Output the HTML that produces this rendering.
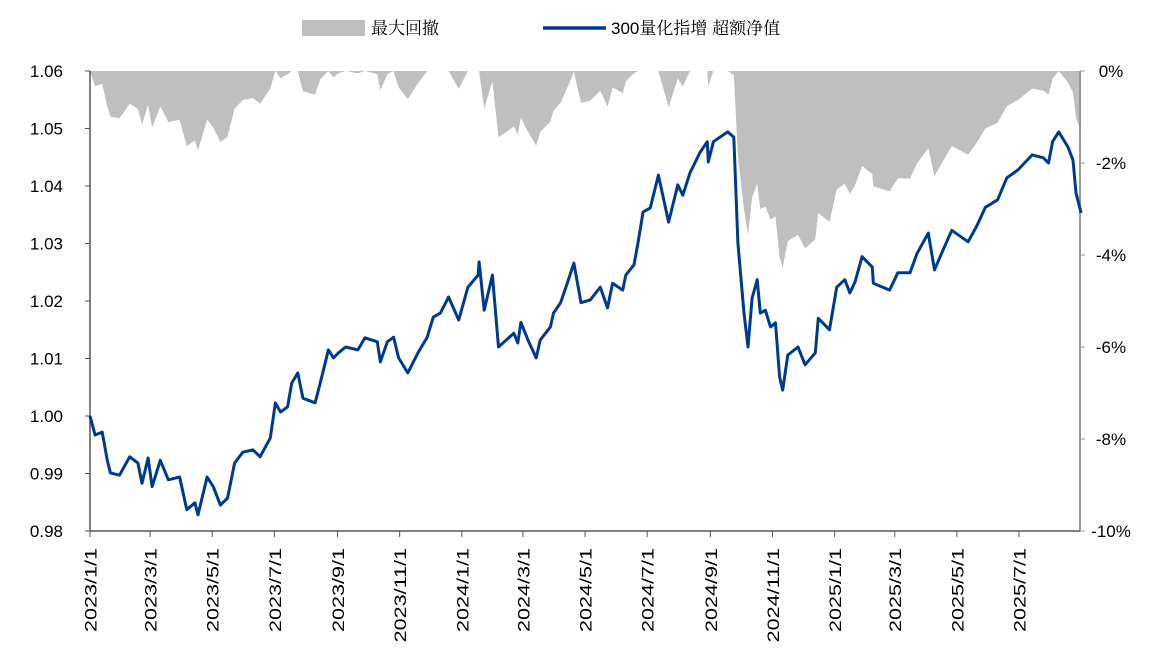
<!DOCTYPE html>
<html><head><meta charset="utf-8"><style>
body{margin:0;background:#fff;}
svg text{font-family:"Liberation Sans",Arial,sans-serif;fill:#000;}
</style></head><body>
<svg width="1161" height="654" viewBox="0 0 1161 654">
<g id="dd"></g>
<g id="axes"></g>
<g id="ln"></g>
<g>
<rect x="302" y="20" width="63" height="16" fill="#bfbfbf"/>
<text x="371" y="34" font-size="17" style="font-family:'Noto Serif CJK SC',serif">最大回撤</text>
<line x1="543" y1="28" x2="606" y2="28" stroke="#003a8c" stroke-width="3.5"/>
<text x="611" y="34" font-size="17" style="font-family:'Liberation Sans','Noto Serif CJK SC',serif">300量化指增 超额净值</text>
</g>
</svg>
<script>
const days=[0,5,12,17,20,29,39,47,51,57,61,69,77,88,95,103,106,115,121,128,135,142,150,160,167,177,182,187,194,198,204,209,221,226,234,239,244,251,263,270,282,285,292,298,303,312,322,331,337,344,352,362,371,381,382,387,395,401,416,420,423,430,438,442,452,455,462,469,475,
482,491,501,508,513,523,526,534,538,543,550,558,568,577,582,589,599,606,607,612,626,632,636,642,646,650,655,658,663,668,673,677,680,685,695,702,712,715,726,733,741,746,751,758,768,769,785,793,805,812,823,829,836,846,862,871,879,891,900,911,925,936,941,945,951,960,965,968,973];
const navValues=[1.0000,0.9967,0.9972,0.9923,0.9901,0.9897,0.9929,0.9918,0.9883,0.9927,0.9877,0.9923,0.9889,0.9894,0.9837,0.9849,0.9828,0.9894,0.9877,0.9845,0.9857,0.9918,0.9937,0.9941,0.9929,0.9962,1.0023,1.0007,1.0016,1.0057,1.0075,1.0031,1.0023,1.0057,1.0115,1.0101,1.0110,1.0120,1.0115,1.0136,1.0129,1.0094,1.0129,1.0137,1.0101,1.0075,1.0110,1.0137,1.0172,1.0179,1.0207,1.0167,1.0224,1.0245,1.0268,1.0184,1.0245,1.0120,1.0144,1.0127,1.0163,1.0132,1.0101,1.0132,1.0155,1.0179,1.0197,1.0233,1.0266,
1.0197,1.0202,1.0224,1.0188,1.0231,1.0219,1.0245,1.0263,1.0301,1.0355,1.0362,1.0419,1.0337,1.0402,1.0384,1.0423,1.0459,1.0477,1.0442,1.0477,1.0494,1.0485,1.0301,1.0179,1.0120,1.0205,1.0237,1.0179,1.0184,1.0155,1.0162,1.0068,1.0045,1.0106,1.0120,1.0089,1.0110,1.0170,1.0150,1.0224,1.0237,1.0214,1.0233,1.0277,1.0259,1.0231,1.0219,1.0249,1.0249,1.0283,1.0318,1.0254,1.0283,1.0323,1.0303,1.0332,1.0363,1.0376,1.0414,1.0428,1.0454,1.0449,1.0440,1.0477,1.0494,1.0468,1.0445,1.0388,1.0353];
const leftTicks=["1.06","1.05","1.04","1.03","1.02","1.01","1.00","0.99","0.98"];
const rightTicks=["0%","-2%","-4%","-6%","-8%","-10%"];
const xTickLabels=["2023/1/1","2023/3/1","2023/5/1","2023/7/1","2023/9/1","2023/11/1","2024/1/1","2024/3/1","2024/5/1","2024/7/1","2024/9/1","2024/11/1","2025/1/1","2025/3/1","2025/5/1","2025/7/1"];

const NS="http://www.w3.org/2000/svg";
const L=90,R=1080,T=71,B=531;
const origin=Date.UTC(2023,0,1);
const pxPerDay=(1019-90)/912;
const xDay=d=>L+d*pxPerDay;
const yNav=v=>T+(1.06-v)/(1.06-0.98)*(B-T);
const yDD=p=>T+(-p)/10*(B-T);
function mk(tag,attrs,parent){const e=document.createElementNS(NS,tag);for(const k in attrs)e.setAttribute(k,attrs[k]);parent.appendChild(e);return e;}

let mx=-Infinity;const dd=navValues.map(v=>{mx=Math.max(mx,v);return (v/mx-1)*100;});
let dpath="M"+xDay(days[0])+","+T;
days.forEach((d,i)=>{dpath+=" L"+xDay(d).toFixed(1)+","+yDD(dd[i]).toFixed(1);});
dpath+=" L"+xDay(days[days.length-1])+","+T+" Z";
const area=mk("path",{d:dpath,fill:"#bfbfbf"},document.getElementById("dd"));



const ax=document.getElementById("axes");
let a=mk("line",{x1:L,y1:T,x2:L,y2:B,stroke:"#555","stroke-width":1.5},ax);


a=mk("line",{x1:R,y1:T,x2:R,y2:B,stroke:"#999","stroke-width":2},ax);


a=mk("line",{x1:L,y1:B,x2:R,y2:B,stroke:"#555","stroke-width":1.5},ax);


leftTicks.forEach((t,i)=>{const y=yNav(parseFloat(t));
 mk("line",{x1:L-5,y1:y,x2:L,y2:y,stroke:"#555"},ax);
 const tx=mk("text",{x:63,y:y+6,"font-size":17,"text-anchor":"end"},ax);tx.textContent=t;
 
 });
rightTicks.forEach((t,i)=>{const y=yDD(parseFloat(t));
 mk("line",{x1:R,y1:y,x2:R+5,y2:y,stroke:"#999"},ax);
 const tx=mk("text",{x:1111,y:y+6,"font-size":17,"text-anchor":"middle"},ax);tx.textContent=t;
 
 });
xTickLabels.forEach(t=>{const p=t.split("/");const d=(Date.UTC(+p[0],+p[1]-1,+p[2])-origin)/864e5;const x=xDay(d);
 mk("line",{x1:x,y1:B,x2:x,y2:B+6,stroke:"#555"},ax);
 const tx=mk("text",{x:0,y:0,"font-size":17,"text-anchor":"end",transform:`translate(${x+6.5},${B+17}) rotate(-90) scale(1.27,1)`},ax);tx.textContent=t;
 
 });

const pts=days.map((d,i)=>xDay(d).toFixed(1)+","+yNav(navValues[i]).toFixed(1)).join(" ");
const pl=mk("polyline",{points:pts,fill:"none",stroke:"#003a8c","stroke-width":3,"stroke-linejoin":"round"},document.getElementById("ln"));


</script>
</body></html>
